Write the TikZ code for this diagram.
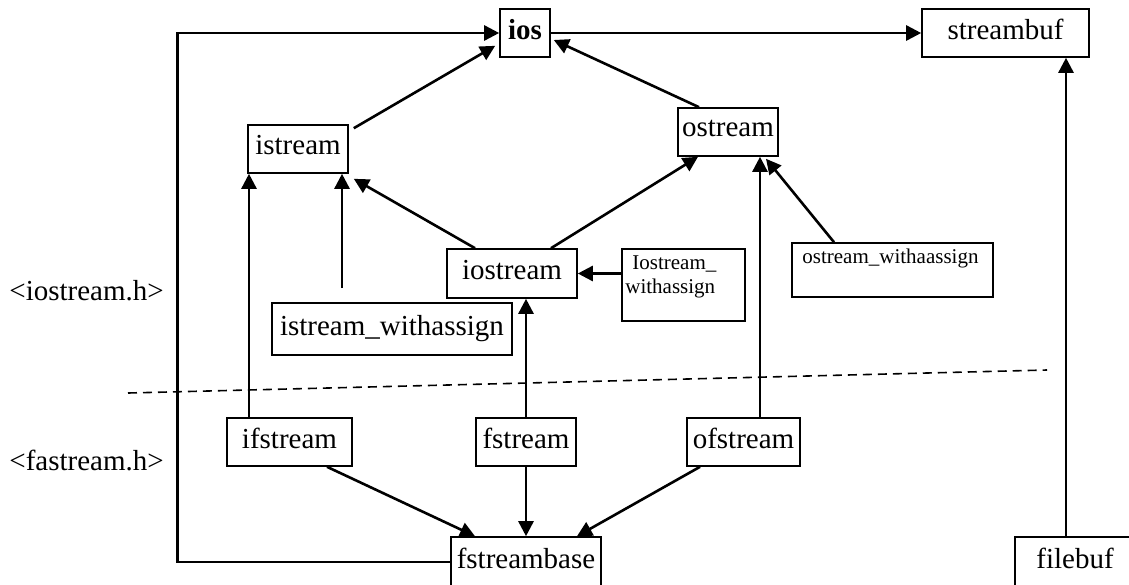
\documentclass[tikz,border=0pt]{standalone}
\usepackage{fontspec}
\setmainfont{Liberation Serif}
\usepackage{tikz}
\usetikzlibrary{arrows.meta}
\usetikzlibrary{positioning}

\begin{document}
\begin{tikzpicture}[x=.5pt,y=-.5pt,
  box/.style={draw, line width=.8pt, inner sep=0pt, text depth=4pt, font=\fontsize{14.5}{17}\selectfont},
  txt/.style={inner sep=0pt, font=\fontsize{14.5}{17}\selectfont},
  small/.style={inner sep=0pt, align=left, font=\fontsize{10.5}{12}\selectfont},
  arr/.style={line width=1.3pt, -{Triangle[length=7.5pt,width=7.5pt]}}]
\useasboundingbox (0,0) rectangle (1129,584);
\clip (0,0) rectangle (1129,584);
% classes
\node[box, minimum width=25pt, minimum height=24pt] (ios) at (525,33) {\textbf{ios}};
\node[box, minimum width=83.5pt, minimum height=24pt] (streambuf) at (1005.5,33) {streambuf};
\node[box, minimum width=50pt, minimum height=24pt] (istream) at (298,149) {istream};
\node[box, minimum width=50pt, minimum height=24pt] (ostream) at (728,132) {ostream};
\node[box, minimum width=65pt, minimum height=24.5pt] (iostream) at (512,273.5) {iostream};
\node[box, minimum width=61.5pt, minimum height=36pt] (iowa) at (683.5,285) {};
\node[small, anchor=north west] (iowatxt) at (625,255) {\hspace*{3.5pt}Iostream\_\\withassign};
\node[box, minimum width=100.5pt, minimum height=27pt] (owa) at (892.5,270) {};
\node[small, anchor=north west] (owatxt) at (802,249) {ostream\_withaassign};
\node[box, minimum width=120pt, minimum height=26pt] (iswa) at (392,329) {istream\_withassign};
\node[box, minimum width=62.5pt, minimum height=24pt] (ifstream) at (289.5,442) {ifstream};
\node[box, minimum width=50pt, minimum height=24pt] (fstream) at (526,442) {fstream};
\node[box, minimum width=56.5pt, minimum height=24pt] (ofstream) at (743.5,442) {ofstream};
\node[box, minimum width=75pt, minimum height=25pt] (fstreambase) at (526,562) {fstreambase};
\node[box, minimum width=60pt, minimum height=25pt] (filebuf) at (1075,562) {filebuf};
% headers
\node[txt, anchor=base west] (ioh) at (9,300) {<iostream.h>};
\node[txt, anchor=base west] (fah) at (9,470) {<fastream.h>};
\draw[line width=.8pt, dash pattern=on 4.5pt off 3pt] (128,393) -- (1047,370);
% inheritance
\draw[arr] (fstreambase.west) -- ++(-273,0) |- (ios.west);
\draw[arr] (ios) -- (streambuf);
\draw[arr] ([shift={(5,4)}]istream.north east) -- ([shift={(-4,-12)}]ios.south west);
\draw[arr] ([shift={(-29,0)}]ostream.north) -- ([shift={(3,7)}]ios.east);
\draw[arr] ([shift={(-37,0)}]iostream.north) -- ([shift={(5,5)}]istream.south east);
\draw[arr] ([shift={(39,0)}]iostream.north) -- ([shift={(-30,0)}]ostream.south);
\draw[arr] ([shift={(-50,-14)}]iswa.north) -- ([shift={(44,0)}]istream.south);
\draw[arr] ([shift={(-40.5,0)}]ifstream.north) -- ([shift={(-49,0)}]istream.south);
\draw[arr] (fstream.north) -- (fstream.north |- iostream.south);
\draw[arr] (iowa.west |- iostream.east) -- (iostream.east);
\draw[arr] ([shift={(-58.5,0)}]owa.north) -- ([shift={(38,2)}]ostream.south);
\draw[arr] ([shift={(16.5,0)}]ofstream.north) -- ([shift={(32,0)}]ostream.south);
\draw[arr] ([shift={(-9,0)}]filebuf.north) -- ([shift={(60.5,0)}]streambuf.south);
\draw[arr] ([shift={(37.5,0)}]ifstream.south) -- ([shift={(-51,0)}]fstreambase.north);
\draw[arr] (fstream.south) -- (fstreambase.north);
\draw[arr] ([shift={(-43.5,0)}]ofstream.south) -- ([shift={(51,0)}]fstreambase.north);
\end{tikzpicture}
\end{document}
